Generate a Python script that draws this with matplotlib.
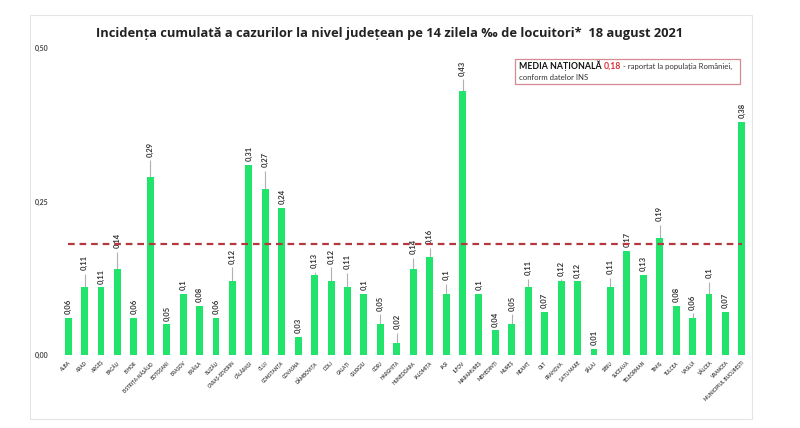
import matplotlib.pyplot as plt
from matplotlib.patches import Rectangle

judete = ["ALBA", "ARAD", "ARGEȘ", "BACĂU", "BIHOR", "BISTRIȚA-NĂSĂUD", "BOTOȘANI",
          "BRAȘOV", "BRĂILA", "BUZĂU", "CARAȘ-SEVERIN", "CĂLĂRAȘI", "CLUJ", "CONSTANȚA",
          "COVASNA", "DÂMBOVIȚA", "DOLJ", "GALAȚI", "GIURGIU", "GORJ", "HARGHITA",
          "HUNEDOARA", "IALOMIȚA", "IAȘI", "ILFOV", "MARAMUREȘ", "MEHEDINȚI", "MUREȘ",
          "NEAMȚ", "OLT", "PRAHOVA", "SATU MARE", "SĂLAJ", "SIBIU", "SUCEAVA",
          "TELEORMAN", "TIMIȘ", "TULCEA", "VASLUI", "VÂLCEA", "VRANCEA",
          "MUNICIPIUL BUCUREȘTI"]
incidenta = [0.06, 0.11, 0.11, 0.14, 0.06, 0.29, 0.05, 0.10, 0.08, 0.06, 0.12, 0.31,
             0.27, 0.24, 0.03, 0.13, 0.12, 0.11, 0.10, 0.05, 0.02, 0.14, 0.16, 0.10,
             0.43, 0.10, 0.04, 0.05, 0.11, 0.07, 0.12, 0.12, 0.01, 0.11, 0.17, 0.13,
             0.19, 0.08, 0.06, 0.10, 0.07, 0.38]
# whiskers above some bars (upper part only)
err_sus = [0, 0.022, 0, 0.028, 0, 0.027, 0, 0, 0, 0, 0.023, 0, 0.03, 0, 0, 0.005,
           0.023, 0.024, 0, 0.016, 0.016, 0.018, 0.015, 0.016, 0.019, 0, 0, 0.016,
           0.014, 0, 0.003, 0, 0, 0.016, 0, 0, 0.022, 0, 0.008, 0.019, 0, 0]
media_nationala = 0.18

fig = plt.figure(figsize=(8, 4.28), dpi=100)
fig.patch.set_facecolor("white")

# light frame of the chart area
fig.patches.append(Rectangle((30 / 800, 1 - 419 / 428), 722 / 800, 404 / 428,
                             transform=fig.transFigure, fill=False,
                             edgecolor="#e4e4e4", linewidth=0.8))

ax = fig.add_axes([55 / 800, 1 - 355 / 428, 700 / 800, 307 / 428])
x = list(range(len(judete)))

ax.bar(x, incidenta, width=0.42, color="#22e46c", zorder=2)
ax.errorbar(x, incidenta, yerr=[[0] * len(x), err_sus], fmt="none",
            ecolor="#b0b0b0", elinewidth=0.8, capsize=0, zorder=1)

for xi, v, e in zip(x, incidenta, err_sus):
    txt = f"{v:.2f}".rstrip("0").replace(".", ",")
    ax.text(xi, v + e + 0.006, txt, rotation=90, ha="center", va="bottom",
            fontsize=5.5, fontweight="bold", color="#333333", family="Lato")

ax.plot(x, [media_nationala] * len(x), color="#b5383f", linestyle=(0, (3, 2.2)),
        linewidth=1.6, zorder=3)

ax.set_xlim(-0.8, 41.8)
ax.set_ylim(0, 0.5)
ax.set_yticks([0, 0.25, 0.5])
ax.set_yticklabels(["0,00", "0,25", "0,50"], fontsize=5, fontweight="bold",
                   color="#444444", family="Lato")
ax.set_xticks(x)
ax.set_xticklabels(judete, rotation=45, ha="right", rotation_mode="anchor",
                   fontsize=3.3, fontweight="bold", color="#444444", family="Lato")
ax.tick_params(length=0)
ax.tick_params(axis="y", pad=5)
ax.tick_params(axis="x", pad=4)
for s in ax.spines.values():
    s.set_visible(False)

fig.text(390 / 800, 1 - 33 / 428,
         "Incidența cumulată a cazurilor la nivel județean pe 14 zilela ‰ de locuitori*  18 august 2021",
         ha="center", va="center", fontsize=9.3, fontweight="bold",
         color="#222222", family="Open Sans")

# national average box
fig.patches.append(Rectangle((515 / 800, 1 - 84 / 428), 225 / 800, 25 / 428,
                             transform=fig.transFigure, fill=False,
                             edgecolor="#d58a90", linewidth=0.9))
t1 = fig.text(519 / 800, 1 - 66 / 428, "MEDIA NAȚIONALĂ ", fontsize=6.3,
              fontweight="bold", color="#111111", family="Lato", va="center")
fig.canvas.draw()
r = fig.canvas.get_renderer()
bb = t1.get_window_extent(r)
t2 = fig.text(bb.x1 / 800, 1 - 66 / 428, "0,18", fontsize=6.3,
              fontweight="bold", color="#e0303a", family="Lato", va="center")
bb2 = t2.get_window_extent(r)
fig.text(bb2.x1 / 800, 1 - 66 / 428, " - raportat la populația României,",
         fontsize=5.6, color="#333333", family="Lato", va="center")
fig.text(519 / 800, 1 - 77 / 428, "conform datelor INS", fontsize=5.6,
         color="#333333", family="Lato", va="center")

fig.savefig("out.png", dpi=100)
